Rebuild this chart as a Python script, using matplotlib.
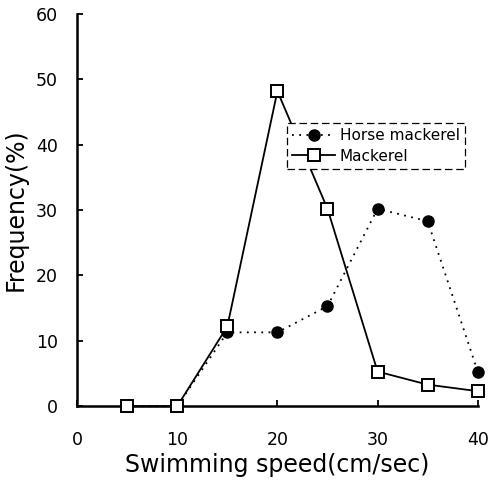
import matplotlib.pyplot as plt

speed = [5, 10, 15, 20, 25, 30, 35, 40]
horse_mackerel = [0, 0, 11.3, 11.3, 15.3, 30.2, 28.3, 5.3]
mackerel = [0, 0, 12.2, 48.2, 30.2, 5.3, 3.3, 2.3]

x_ticks = [0, 10, 20, 30, 40]
y_ticks = [0, 10, 20, 30, 40, 50, 60]

plt.rcParams["font.family"] = ["DejaVu Sans"]

fig = plt.figure(figsize=(4.91, 4.83), dpi=100)
ax = fig.add_axes([0.157, 0.159, 0.816, 0.812])

ax.plot(speed, horse_mackerel, linestyle=(0, (1, 3)), color="black", lw=1.3,
        marker="o", markersize=8, markerfacecolor="black",
        label="Horse mackerel", clip_on=False, zorder=3)
ax.plot(speed, mackerel, linestyle="-", color="black", lw=1.3,
        marker="s", markersize=9, markerfacecolor="white",
        markeredgewidth=1.4, label="Mackerel", clip_on=False, zorder=4)

ax.set_xlim(0, 40)
ax.set_ylim(0, 60)
ax.set_xticks(x_ticks)
ax.set_yticks(y_ticks)
ax.tick_params(direction="in", length=4, width=1.3, labelsize=12.5)
ax.tick_params(axis="x", pad=18)
ax.tick_params(axis="y", pad=14)

for side in ["top", "right"]:
    ax.spines[side].set_visible(False)
for side in ["left", "bottom"]:
    ax.spines[side].set_linewidth(1.8)

ax.set_xlabel("Swimming speed(cm/sec)", fontsize=17, labelpad=3)
ax.set_ylabel("Frequency(%)", fontsize=17, labelpad=6)

# opaque legend box that hides the line behind it, as in the original
leg = ax.legend(loc="upper left", bbox_to_anchor=(0.524, 0.722),
                fontsize=11, frameon=True, fancybox=False, framealpha=1,
                handlelength=2.8, handletextpad=0.3, borderpad=0.35,
                labelspacing=0.35, borderaxespad=0)
leg.set_zorder(10)
leg.get_frame().set_edgecolor("black")
leg.get_frame().set_linestyle((0, (6, 3)))
leg.get_frame().set_linewidth(0.9)

fig.savefig("out.png", dpi=100)
